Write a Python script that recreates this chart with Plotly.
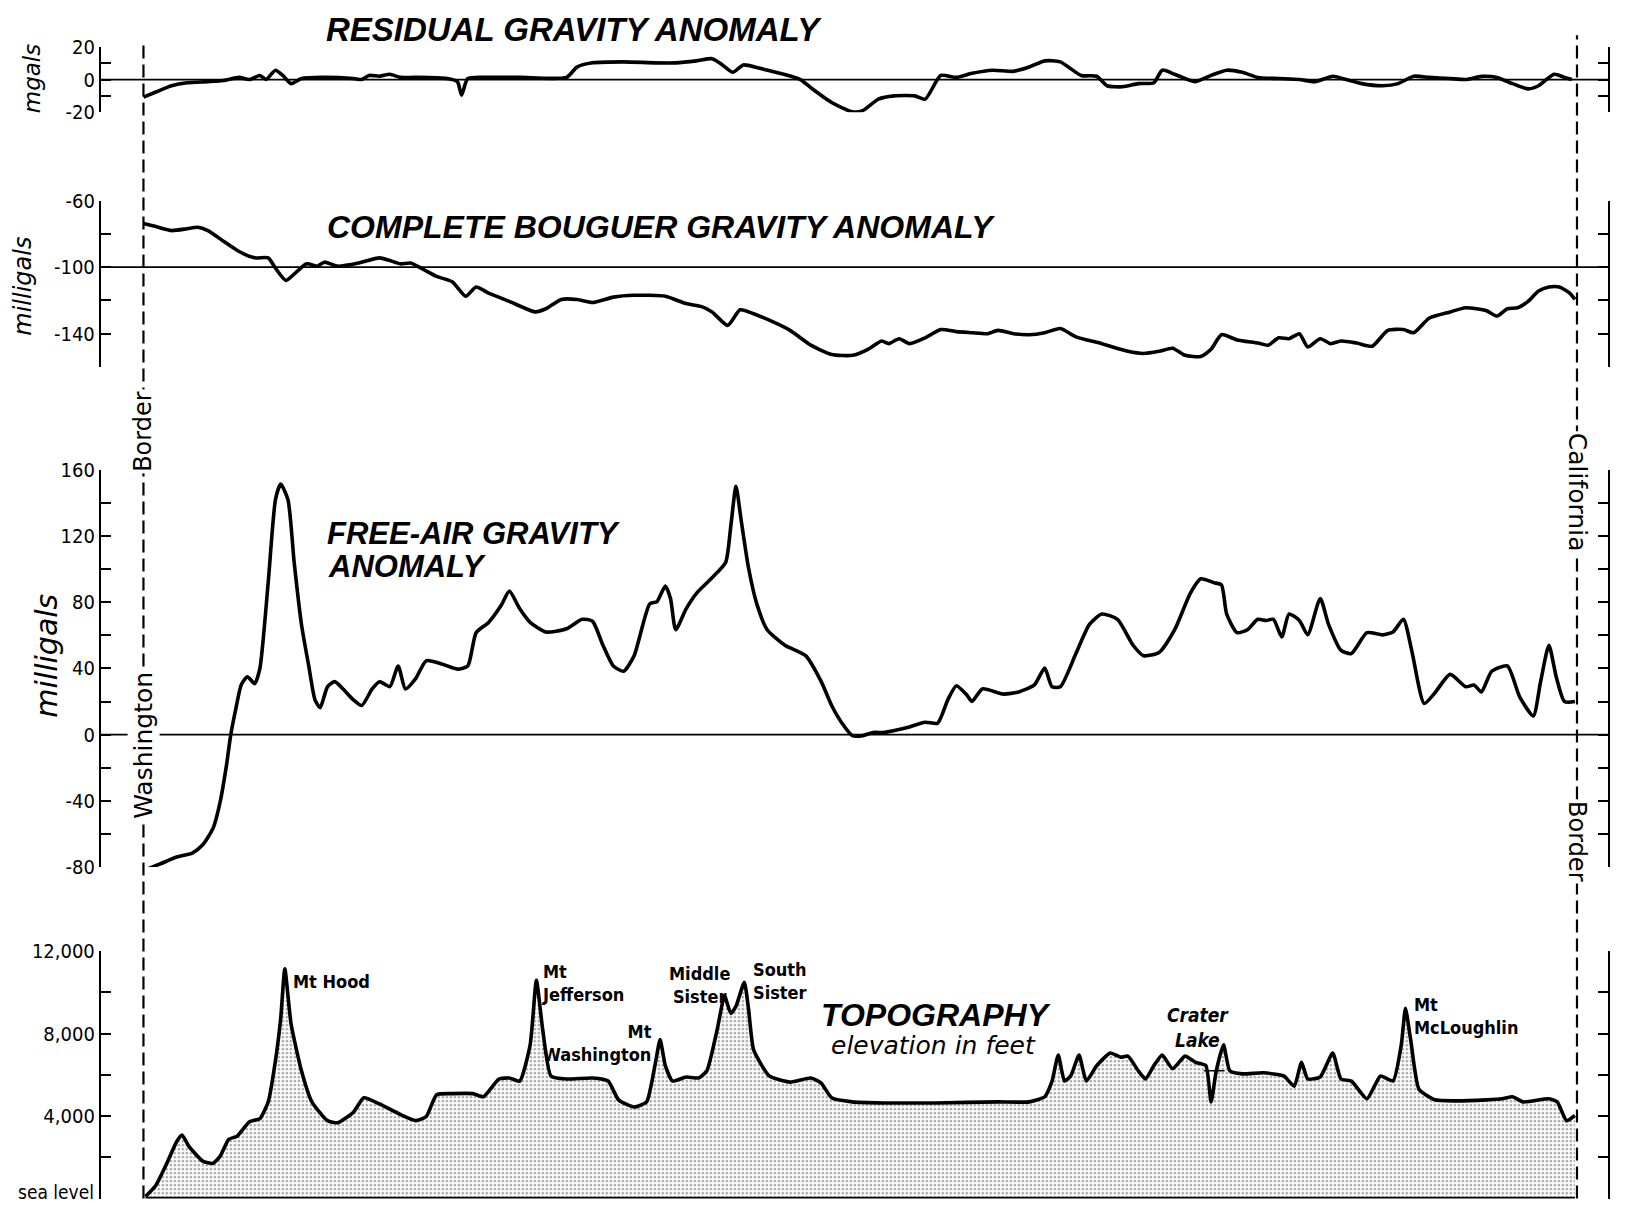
import plotly.graph_objects as go

# ---------------- DATA ----------------
# distance along the profile (arbitrary units): 0 = Washington border, 1379 = California border
BORDER_WA = 0
BORDER_CA = 1379

res_x = [0, 12, 27, 42, 62, 77, 92, 102, 112, 118, 127, 134, 142, 152, 172, 202, 210, 217, 227, 237,
         247, 262, 292, 302, 306, 312, 332, 362, 407, 417, 432, 462, 492, 512, 532, 547, 557, 567, 577, 592,
         612, 632, 642, 662, 682, 692, 707, 722, 742, 752, 767, 782, 797, 817, 837, 852, 867, 882, 902, 917,
         927, 942, 957, 972, 980, 992, 1002, 1012, 1027, 1042, 1057, 1072, 1092, 1112, 1127, 1144, 1157, 1172, 1192, 1207,
         1222, 1237, 1257, 1272, 1287, 1302, 1317, 1332, 1342, 1357, 1367, 1374]
res_v = [-10.8, -7.6, -3.8, -2, -1.3, -0.6, 1.3, 0, 2.5, 0, 5.7, 2.5, -2.5, 0.6, 1.3, 0.6, 0, 2.5, 2, 3.2,
         1.3, 1.3, 0.6, -1.3, -9.5, 0.6, 1.3, 1.3, 1.3, 7.6, 10.2, 10.8, 10.2, 10.2, 11.4, 12.7, 8.9, 4.4, 8.9, 7,
         3.8, 0, -5, -14, -19.7, -19, -12, -10, -10, -12, 2.5, 1.3, 3.8, 5.7, 5, 7.6, 11.4, 10.8, 2.5, 2,
         -3.8, -4.4, -2.5, -2, 5.7, 3.2, 0.6, -1.3, 2.5, 5.7, 4.4, 1.3, 0.6, 0, -1.3, 2, 0, -2.5, -3.8, -2.5,
         2, 1.3, 0.6, 0, 1.9, 1.3, -2.5, -5.7, -3.8, 3.2, 1.3, 0]

boug_x = [0, 12, 27, 42, 52, 62, 77, 92, 107, 120, 127, 137, 147, 157, 167, 174, 187, 207, 227, 237,
          247, 257, 267, 282, 297, 310, 320, 332, 352, 377, 387, 402, 417, 432, 452, 472, 502, 522, 537, 547,
          562, 574, 587, 602, 622, 642, 662, 682, 697, 710, 717, 727, 737, 752, 767, 782, 797, 812, 822, 837,
          852, 867, 882, 897, 922, 947, 962, 977, 990, 1002, 1017, 1027, 1037, 1052, 1072, 1082, 1092, 1102, 1112, 1120,
          1132, 1142, 1152, 1167, 1182, 1197, 1212, 1222, 1237, 1257, 1272, 1292, 1302, 1312, 1322, 1332, 1342, 1352, 1362, 1372, 1377]
boug_v = [-73.8, -75.6, -78, -76.9, -76, -78, -84.4, -90.6, -94.4, -94.4, -100.6, -108, -103, -98, -99.4, -97, -99.4, -97.5, -94.4, -96,
          -98, -97.5, -100.6, -105.6, -108.75, -117.5, -111.9, -115.6, -120.6, -126.9, -125, -119.4, -119.4, -121.25, -118, -116.9, -117.5, -121.9, -123.75, -126.9,
          -135, -125.6, -128, -131.9, -138, -146.9, -152.5, -153, -149.4, -144.4, -146, -143, -146, -142.5, -137.5, -138.75, -139.4, -140, -138, -140,
          -140.6, -139.4, -136.9, -141.9, -146, -150.6, -151.9, -150.6, -148.75, -153, -153.75, -149.4, -140.6, -143.75, -145.6, -146.9, -142.5, -143, -140, -148,
          -143, -146, -144.4, -145.6, -147.5, -138, -137.5, -139.4, -130.6, -126.9, -124.4, -126.25, -129.4, -125, -124.4, -120.6, -114.4, -111.9, -111.9, -115.6, -119.4]

fa_x = [2, 17, 32, 47, 57, 67, 74, 80, 84, 89, 94, 100, 107, 112, 120, 127, 132, 139, 145, 152,
        159, 165, 170, 177, 184, 192, 202, 210, 220, 227, 237, 245, 252, 262, 272, 287, 302, 312, 320, 332,
        344, 352, 362, 372, 387, 407, 422, 432, 442, 452, 462, 472, 487, 494, 502, 507, 512, 522, 532, 547,
        560, 565, 570, 575, 582, 590, 600, 617, 637, 652, 662, 672, 682, 692, 702, 712, 732, 752, 764, 774,
        782, 792, 797, 807, 827, 842, 857, 867, 874, 882, 897, 910, 922, 937, 952, 962, 977, 992, 1007, 1017,
        1030, 1037, 1042, 1052, 1062, 1072, 1080, 1087, 1095, 1102, 1112, 1120, 1132, 1140, 1152, 1162, 1177, 1192, 1202, 1212,
        1220, 1232, 1242, 1257, 1272, 1280, 1287, 1297, 1312, 1324, 1337, 1344, 1352, 1359, 1367, 1377]
fa_v = [-81.7, -77.9, -74, -71.6, -66.6, -56.5, -40, -18, 0, 16, 30, 35, 30.8, 40, 92, 142, 151.4, 142, 104, 66.6,
        41.5, 21, 16.3, 28.9, 32, 27.6, 21, 17.6, 27.6, 32, 29, 41.5, 27.6, 34, 44.6, 42.7, 39.6, 41.5, 61.6, 67.8,
        78, 86.7, 76, 67.8, 62, 64, 69.7, 68.5, 54, 41.5, 38.3, 47.7, 79, 80.4, 89.8, 82.3, 63.4, 76, 85.4, 94.8,
        104, 126, 150, 129.4, 101, 79, 63.4, 54, 47.7, 32, 17.6, 6.9, -0.6, -0.6, 1.3, 1.3, 3.8, 7.5, 6.9, 21.4,
        29.5, 23.9, 20, 27.6, 24.5, 25.8, 30, 40.2, 28.9, 28.9, 49, 66.6, 72.9, 69.7, 54, 47.7, 49.6, 63.4, 85.4, 94.2,
        91.8, 90.5, 72.9, 61.6, 63.4, 69.7, 69, 69.7, 59, 72.9, 69, 60.3, 82.3, 66.6, 50.9, 49, 61.6, 60.3, 62, 69.7,
        50.9, 18.8, 25, 36.4, 28.9, 30, 25.8, 38.3, 41.5, 22.6, 11.3, 32, 54, 35, 20, 20]

topo_x = [2, 12, 22, 32, 37, 44, 57, 67, 74, 82, 90, 102, 112, 120, 127, 132, 136, 142, 152, 162,
          177, 187, 202, 212, 227, 247, 262, 272, 282, 297, 317, 327, 342, 352, 362, 372, 378, 384, 392, 407,
          432, 447, 457, 472, 484, 492, 497, 502, 509, 522, 534, 542, 552, 559, 565, 570, 578, 582, 587, 602,
          622, 642, 652, 662, 682, 712, 762, 822, 852, 867, 874, 880, 886, 892, 900, 907, 917, 930, 940, 947,
          957, 964, 972, 980, 990, 1002, 1012, 1022, 1027, 1032, 1039, 1045, 1057, 1077, 1097, 1107, 1114, 1120, 1132, 1144,
          1152, 1162, 1177, 1190, 1202, 1210, 1214, 1219, 1227, 1242, 1262, 1292, 1307, 1317, 1327, 1352, 1360, 1369, 1377]
topo_v = [100, 650, 1660, 2770, 3080, 2520, 1815, 1710, 2070, 2875, 3025, 3730, 3880, 4690, 6700, 8720, 11140, 8470, 6200, 4690,
          3780, 3680, 4190, 4890, 4590, 4080, 3780, 3980, 5040, 5090, 5090, 4940, 5800, 5850, 5700, 7460, 10590, 8220, 5950, 5800,
          5850, 5700, 4790, 4440, 4690, 6450, 7710, 6450, 5700, 5900, 5850, 6200, 8220, 9830, 8980, 9330, 10490, 9230, 7210, 5950,
          5650, 5850, 5600, 4890, 4690, 4640, 4640, 4690, 4690, 4940, 5700, 6960, 5700, 5950, 6960, 5700, 6450, 7060, 6860, 6910,
          6200, 5800, 6450, 6960, 6300, 6910, 6610, 6450, 4690, 6200, 7460, 6200, 6050, 6100, 5950, 5450, 6610, 5800, 5900, 7060,
          5800, 5700, 4840, 5950, 5700, 7460, 9230, 7710, 5300, 4790, 4740, 4790, 4840, 4940, 4690, 4840, 4690, 3780, 4030]

crater_lake_x = [1020, 1040]
crater_lake_surface = 6200

res_ticks = [20, 10, 0, -10, -20]
res_labels = ["20", "", "0", "", "-20"]
boug_ticks = [-60, -80, -100, -120, -140, -160]
boug_labels = ["-60", "", "-100", "", "-140", ""]
fa_ticks = [160, 140, 120, 100, 80, 60, 40, 20, 0, -20, -40, -60, -80]
fa_labels = ["160", "", "120", "", "80", "", "40", "", "0", "", "-40", "", "-80"]
topo_ticks = [12000, 10000, 8000, 6000, 4000, 2000, 0]
topo_labels = ["12,000", "", "8,000", "", "4,000", "", ""]
sea_level_label = "sea level"

peak_labels = [
    ("Mt Hood", 280, 944, "left"),
    ("Mt<br>Jefferson", 519, 946, "left"),
    ("Mt<br>Washington", 629, 1003, "right"),
    ("Middle<br>Sister", 673, 948, "center"),
    ("South<br>Sister", 722, 944, "left"),
    ("Mt<br>McLoughlin", 1358, 977, "left"),
]

# ---------------- LAYOUT HELPERS ----------------
OFF = 8                      # default page margin of the html body
W, H = 1630 - OFF, 1209 - OFF
SX = 1630 / 1568.0           # reference-view -> full-size pixels


def px(x):
    return (x * SX - OFF) / W


def py(y):
    return 1 - (y * SX - OFF) / H


COND = "DejaVu Sans Condensed, Liberation Sans Narrow, Arial Narrow, sans-serif"
SANS = "Liberation Sans, Arial, sans-serif"
DEJ = "DejaVu Sans, Verdana, sans-serif"

XR = [-41, 1409]
XDOM = [px(97), px(1547)]
YDOM = {1: [py(108), py(45)], 2: [py(353), py(193)], 3: [py(834), py(452)], 4: [py(1153), py(915)]}
YR = {1: [-20, 20], 2: [-160, -60], 3: [-80, 160], 4: [0, 12000]}
TK = {1: (res_ticks, res_labels), 2: (boug_ticks, boug_labels), 3: (fa_ticks, fa_labels), 4: (topo_ticks, topo_labels)}

fig = go.Figure()
LINE = dict(color="black", width=3.6, shape="spline", smoothing=0.6)

fig.add_trace(go.Scatter(x=res_x, y=res_v, mode="lines", line=LINE, xaxis="x", yaxis="y"))
fig.add_trace(go.Scatter(x=boug_x, y=boug_v, mode="lines", line=LINE, xaxis="x2", yaxis="y2"))
fig.add_trace(go.Scatter(x=fa_x, y=fa_v, mode="lines", line=LINE, xaxis="x3", yaxis="y3"))
fig.add_trace(go.Scatter(x=topo_x, y=topo_v, mode="lines", fill="tozeroy",
                         fillcolor="white",
                         fillpattern=dict(shape=".", fgcolor="#4a4a4a", bgcolor="white", size=4, solidity=0.35),
                         line=dict(color="black", width=3.6, shape="spline", smoothing=0.5),
                         xaxis="x4", yaxis="y4"))

layout = dict(width=W, height=H, margin=dict(l=0, r=0, t=0, b=0, pad=0, autoexpand=False), showlegend=False,
              paper_bgcolor="white", plot_bgcolor="rgba(0,0,0,0)")
for i in range(1, 5):
    s = "" if i == 1 else str(i)
    layout["xaxis" + s] = dict(domain=XDOM, range=XR, visible=False, anchor="y" + s, fixedrange=True,
                               automargin=False)
    tv, tt = TK[i]
    layout["yaxis" + s] = dict(domain=YDOM[i], range=YR[i], anchor="x" + s, tickvals=tv, ticktext=tt,
                               ticks="inside", ticklen=10, tickwidth=2, tickcolor="black",
                               showline=True, linewidth=2, linecolor="black", mirror="ticks",
                               showgrid=False, zeroline=False, automargin=False,
                               ticklabeloverflow="allow",
                               tickfont=dict(family=COND, size=20, color="black"))
fig.update_layout(**layout)

shapes = []
# reference lines
for yref, val in (("y", 0), ("y2", -100), ("y3", 0)):
    shapes.append(dict(type="line", xref=yref.replace("y", "x") + " domain",
                       yref=yref, x0=0, x1=1, y0=val, y1=val, line=dict(color="black", width=1.8)))
# sea-level baseline
shapes.append(dict(type="line", xref="x4", yref="y4", x0=topo_x[0], x1=topo_x[-1], y0=0, y1=0,
                   line=dict(color="black", width=3.5)))
# Crater Lake surface
shapes.append(dict(type="line", xref="x4", yref="y4", x0=crater_lake_x[0], x1=crater_lake_x[1],
                   y0=crater_lake_surface, y1=crater_lake_surface, line=dict(color="black", width=1.5)))
# state border dashed lines
shapes.append(dict(type="line", xref="x", yref="paper", x0=BORDER_WA, x1=BORDER_WA, y0=py(1153), y1=py(38),
                   line=dict(color="black", width=2.2, dash="13px,6px")))
shapes.append(dict(type="line", xref="x", yref="paper", x0=BORDER_CA, x1=BORDER_CA, y0=py(1153), y1=py(34),
                   line=dict(color="black", width=2.2, dash="13px,6px")))
fig.update_layout(shapes=shapes)

ann = []


def A(text, x, y, size, family, xanchor="center", angle=0, bg=None, align="center", color="black"):
    d = dict(text=text, x=px(x), y=py(y), xref="paper", yref="paper", showarrow=False,
             xanchor=xanchor, yanchor="middle", textangle=angle, align=align,
             font=dict(family=family, size=size, color=color))
    if bg:
        d["bgcolor"] = bg
    ann.append(d)


A("<b><i>RESIDUAL GRAVITY ANOMALY</i></b>", 312, 28, 33, SANS, xanchor="left")
A("<b><i>COMPLETE BOUGUER GRAVITY ANOMALY</i></b>", 313, 218, 32, SANS, xanchor="left")
A("<b><i>FREE-AIR GRAVITY</i></b>", 313, 513, 31, SANS, xanchor="left")
A("<b><i>ANOMALY</i></b>", 314, 545, 31, SANS, xanchor="left")
A("<b><i>TOPOGRAPHY</i></b>", 900, 976, 32, SANS)
A("<i>elevation in feet</i>", 898, 1006, 25, DEJ)
A("<b><i>Crater<br>Lake</i></b>", 1152, 988, 19, COND)

A("<i>mgals</i>", 31, 76, 23, DEJ, angle=-90)
A("<i>milligals</i>", 22, 275, 24, DEJ, angle=-90)
A("<i>milligals</i>", 45, 631, 30, DEJ, angle=-90)

A("Border", 138, 415, 24, DEJ, angle=-90, bg="white")
A("Washington", 138, 717, 25, DEJ, angle=-90, bg="white")
A("California", 1517, 474, 25, DEJ, angle=90, bg="white")
A("Border", 1517, 810, 24, DEJ, angle=90, bg="white")

A(sea_level_label, 92, 1147, 19, COND, xanchor="right")

for text, x, y, anc in peak_labels:
    A("<b>" + text + "</b>", x, y, 18, COND, xanchor=anc, align=anc)

fig.update_layout(annotations=ann)
fig.write_html("out.html")
